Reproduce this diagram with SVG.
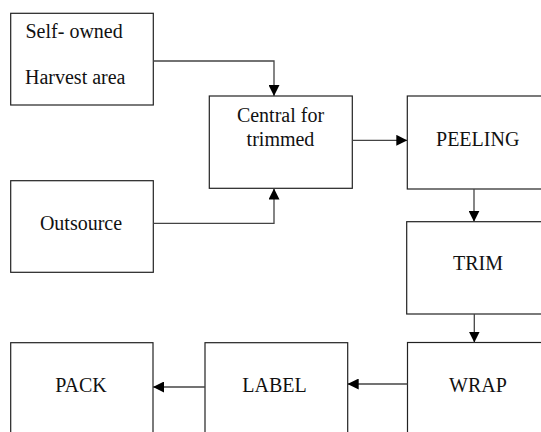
<svg xmlns="http://www.w3.org/2000/svg" width="541" height="432" viewBox="0 0 541 432">
<style>
.box{fill:#fff;stroke:#222;stroke-width:1.2}
.lbl{font-family:"Liberation Serif","Times New Roman",serif;font-size:20px;fill:#111}
.mid{text-anchor:middle}
.con{fill:none;stroke:#444;stroke-width:1.3}
</style>
<defs>
<marker id="ah" markerUnits="userSpaceOnUse" markerWidth="11" markerHeight="11" refX="10" refY="5" orient="auto" viewBox="0 0 10 10">
<path d="M0,0 L10,5 L0,10 z" fill="#000"/>
</marker>
</defs>
<rect width="541" height="432" fill="#fff"/>
<g id="self-owned">
<rect class="box" x="10.7" y="13.3" width="142.6" height="91.7"/>
<text class="lbl" x="25.5" y="38">Self- owned</text>
<text class="lbl" x="25" y="84">Harvest area</text>
</g>
<g id="outsource">
<rect class="box" x="10.7" y="180.7" width="142.6" height="91.6"/>
<text class="lbl mid" x="81" y="230">Outsource</text>
</g>
<g id="central">
<rect class="box" x="209.3" y="96" width="143" height="92.3"/>
<text class="lbl mid" x="280.5" y="121.7">Central for</text>
<text class="lbl mid" x="280.5" y="146">trimmed</text>
</g>
<g id="peeling">
<rect class="box" x="407.3" y="96" width="150" height="93"/>
<text class="lbl mid" x="477.7" y="145.7">PEELING</text>
</g>
<g id="trim">
<rect class="box" x="406.7" y="221.7" width="150" height="92.3"/>
<text class="lbl mid" x="478" y="270">TRIM</text>
</g>
<g id="wrap">
<rect class="box" x="407.5" y="342.5" width="150" height="100"/>
<text class="lbl mid" x="478" y="392.3">WRAP</text>
</g>
<g id="label">
<rect class="box" x="205" y="342.7" width="142.7" height="100"/>
<text class="lbl mid" x="274.5" y="392.3">LABEL</text>
</g>
<g id="pack">
<rect class="box" x="10.7" y="342.7" width="142.3" height="100"/>
<text class="lbl mid" x="81" y="392.3">PACK</text>
</g>
<g id="connectors">
<path class="con" d="M153.3 61 H274 V96" marker-end="url(#ah)"/>
<path class="con" d="M153.3 223.3 H274 V188.5" marker-end="url(#ah)"/>
<path class="con" d="M352.3 140.3 H407.3" marker-end="url(#ah)"/>
<path class="con" d="M474 189 V221.7" marker-end="url(#ah)"/>
<path class="con" d="M474.3 314 V342.5" marker-end="url(#ah)"/>
<path class="con" d="M407.5 384 H347.7" marker-end="url(#ah)"/>
<path class="con" d="M205 387 H153" marker-end="url(#ah)"/>
</g>
</svg>
